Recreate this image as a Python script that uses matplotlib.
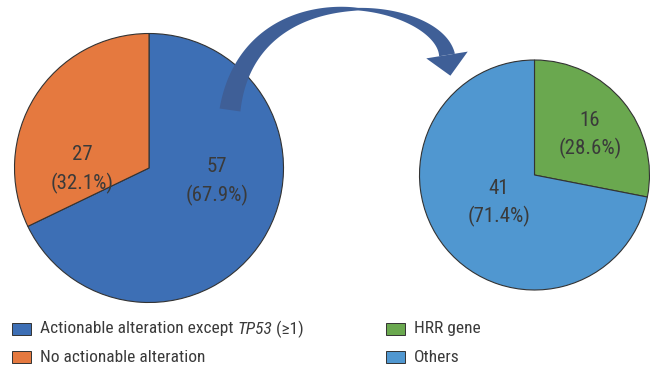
import numpy as np
import matplotlib
matplotlib.use("Agg")
import matplotlib.pyplot as plt
from matplotlib.patches import Polygon, Rectangle

# figure size in pixels (dpi 100)
W, H = 650, 371

# left pie: all patients
left_counts = [57, 27]
left_pcts = [67.9, 32.1]
left_names = ["Actionable alteration except ", "No actionable alteration"]
left_colors = ["#3d6fb5", "#e5793f"]

# right pie: patients with actionable alteration
right_counts = [16, 41]
right_pcts = [28.6, 71.4]
right_names = ["HRR gene", "Others"]
right_colors = ["#6aa84f", "#5097d0"]

FONT = ["Roboto Condensed", "DejaVu Sans"]
TXT = "#3a3a3a"
EDGE = "#333333"
ARROW = "#3f5f97"

fig = plt.figure(figsize=(W / 100, H / 100), dpi=100)
ax = fig.add_axes([0, 0, 1, 1])

wp = dict(edgecolor=EDGE, linewidth=0.8)
ax.pie(left_counts, colors=left_colors, startangle=90, counterclock=False,
       center=(149, H - 168), radius=134.5, frame=True, wedgeprops=wp)
ax.pie(right_counts, colors=right_colors, startangle=90, counterclock=False,
       center=(534.5, H - 175), radius=115, frame=True, wedgeprops=wp)
ax.set_xlim(0, W)
ax.set_ylim(0, H)
ax.set_aspect("auto")
ax.axis("off")


def pie_label(x, y, n, p):
    # y given from the top edge
    ax.text(x, H - y, str(n), ha="center", va="center", fontsize=15,
            color=TXT, family=FONT)
    ax.text(x, H - y - 28, "(%.1f%%)" % p, ha="center", va="center",
            fontsize=15, color=TXT, family=FONT)


pie_label(217, 167, left_counts[0], left_pcts[0])
pie_label(82, 155, left_counts[1], left_pcts[1])
pie_label(590, 120, right_counts[0], right_pcts[0])
pie_label(499, 188, right_counts[1], right_pcts[1])

# curved arrow from the left pie to the right pie
P0 = np.array([230.0, 110.0])
P1 = np.array([250.0, -30.0])
P2 = np.array([438.0, 0.0])
P3 = np.array([447.0, 55.0])
t = np.linspace(0, 1, 200)[:, None]
c = (1 - t) ** 3 * P0 + 3 * (1 - t) ** 2 * t * P1 + 3 * (1 - t) * t ** 2 * P2 + t ** 3 * P3
d = 3 * (1 - t) ** 2 * (P1 - P0) + 6 * (1 - t) * t * (P2 - P1) + 3 * t ** 2 * (P3 - P2)
d = d / np.linalg.norm(d, axis=1, keepdims=True)
nrm = np.column_stack([-d[:, 1], d[:, 0]])
tt = t[:, 0]
w = np.where(tt < 0.55,
             2.5 + 18.5 * ((0.55 - tt) / 0.55).clip(0) ** 0.8,
             2.5 + 13.5 * ((tt - 0.55) / 0.45).clip(0))
side_a = c + nrm * w[:, None] / 2
side_b = c - nrm * w[:, None] / 2
body = np.vstack([side_a, side_b[::-1]])
tip_dir = d[-1]
n_end = nrm[-1]
head = np.array([P3 + n_end * 21, P3 + tip_dir * 21, P3 - n_end * 21])
for pts in (body, head):
    pts = pts.copy()
    pts[:, 1] = H - pts[:, 1]
    ax.add_patch(Polygon(pts, closed=True, facecolor=ARROW, edgecolor="none",
                         zorder=5))

# legend
fig.canvas.draw()
renderer = fig.canvas.get_renderer()


def legend_row(x, y, color, parts):
    ax.add_patch(Rectangle((x, H - y - 6), 19, 12, facecolor=color,
                           edgecolor=EDGE, linewidth=0.7, zorder=6))
    tx = x + 28
    for s, style in parts:
        t_ = ax.text(tx, H - y, s, ha="left", va="center", fontsize=12.5,
                     color=TXT, family=FONT, style=style)
        bb = t_.get_window_extent(renderer)
        tx = bb.x1


legend_row(12, 329, left_colors[0],
           [(left_names[0], "normal"), ("TP53", "italic"), (" (\u22651)", "normal")])
legend_row(12, 357, left_colors[1], [(left_names[1], "normal")])
legend_row(386, 329, right_colors[0], [(right_names[0], "normal")])
legend_row(386, 357, right_colors[1], [(right_names[1], "normal")])

fig.savefig("out.png", dpi=100)
